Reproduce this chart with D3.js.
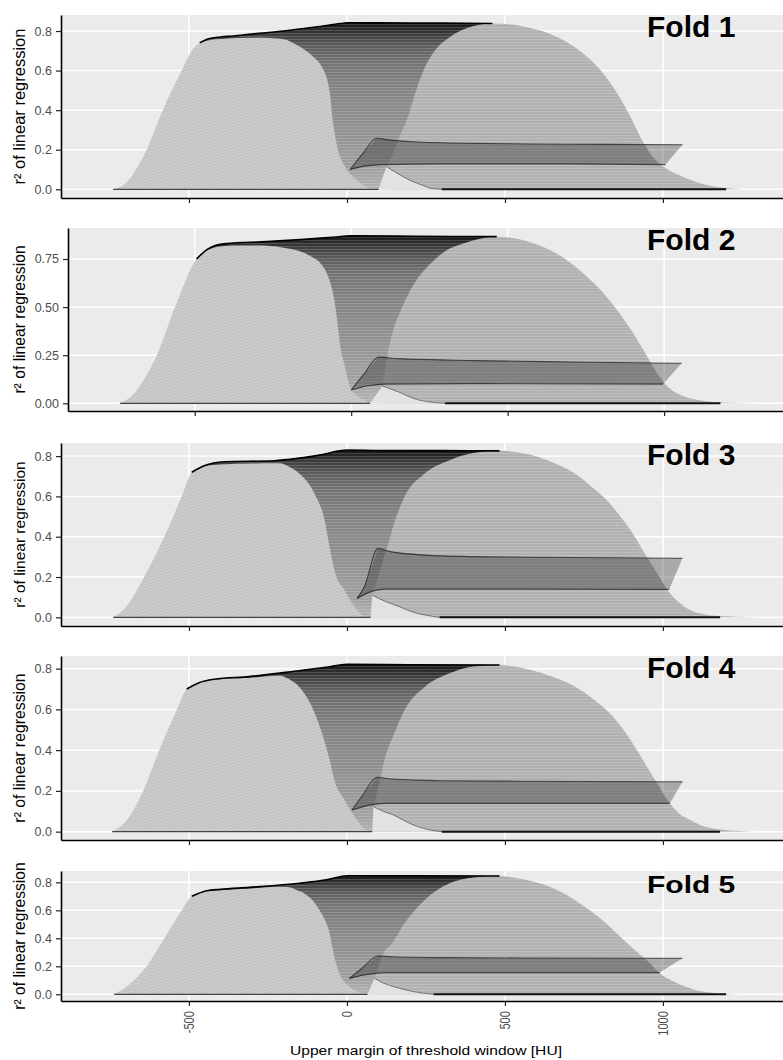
<!DOCTYPE html>
<html>
<head>
<meta charset="utf-8">
<script src="https://cdn.jsdelivr.net/npm/d3@7"></script>
<style>
  body { margin: 0; background: #fff; }
  svg { display: block; }
  text { font-family: "Liberation Sans", Arial, sans-serif; }
</style>
</head>
<body>
<svg id="chart" width="783" height="1060"></svg>
<script>
// ---------- data, one entry per fold ----------
const foldNames = ['Fold 1', 'Fold 2', 'Fold 3', 'Fold 4', 'Fold 5'];
const xTicks = [-500, 0, 500, 1000];
const xTickLabels = ['-500', '0', '500', '1000'];
const yTicks = [
    [0, 0.2, 0.4, 0.6, 0.8],
    [0, 0.25, 0.5, 0.75],
    [0, 0.2, 0.4, 0.6, 0.8],
    [0, 0.2, 0.4, 0.6, 0.8],
    [0, 0.2, 0.4, 0.6, 0.8]
];
const yTickLabels = [
    ['0.0', '0.2', '0.4', '0.6', '0.8'],
    ['0.00', '0.25', '0.50', '0.75'],
    ['0.0', '0.2', '0.4', '0.6', '0.8'],
    ['0.0', '0.2', '0.4', '0.6', '0.8'],
    ['0.0', '0.2', '0.4', '0.6', '0.8']
];

// outline of the left hump (rise, plateau, fall)  [HU, r2]
const leftHump = [
    [[-740,0],[-700,0.03],[-660,0.12],[-634,0.2],[-583,0.4],[-523,0.6],[-491,0.7],[-466,0.74],[-440,0.752],[-400,0.76],[-300,0.766],[-230,0.764],[-190,0.755],[-160,0.73],[-130,0.70],[-107,0.67],[-80,0.62],[-62,0.55],[-54,0.485],[-45,0.35],[-31,0.215],[-6,0.114],[25,0.056],[73,0.005],[100,0]],
    [[-739,0],[-700,0.04],[-660,0.13],[-621,0.25],[-563,0.5],[-494,0.75],[-460,0.795],[-430,0.812],[-377,0.82],[-300,0.82],[-220,0.81],[-164,0.79],[-125,0.76],[-100,0.73],[-74,0.66],[-58,0.57],[-46,0.45],[-36,0.31],[-20,0.19],[-4,0.086],[39,0.017],[60,0]],
    [[-740,0],[-700,0.05],[-642,0.2],[-578,0.4],[-523,0.6],[-491,0.72],[-452,0.75],[-400,0.758],[-300,0.763],[-214,0.764],[-180,0.745],[-151,0.714],[-103,0.615],[-71,0.483],[-55,0.35],[-40,0.235],[-8,0.135],[24,0.053],[55,0.005],[75,0]],
    [[-743,0],[-700,0.05],[-645,0.2],[-594,0.4],[-538,0.6],[-507,0.7],[-470,0.73],[-420,0.745],[-309,0.755],[-214,0.765],[-180,0.745],[-151,0.71],[-111,0.613],[-79,0.483],[-55,0.352],[-40,0.254],[-8,0.156],[24,0.074],[63,0.005],[80,0]],
    [[-737,0],[-700,0.05],[-634,0.2],[-578,0.4],[-523,0.6],[-491,0.7],[-444,0.735],[-400,0.745],[-309,0.755],[-220,0.768],[-183,0.765],[-160,0.745],[-135,0.721],[-87,0.602],[-55,0.436],[-40,0.269],[-24,0.15],[8,0.055],[48,0.005],[65,0]]
];

// upper envelope of all curves
const topEnv = [
    [[-466,0.74],[-440,0.76],[-400,0.77],[-360,0.775],[-300,0.785],[-200,0.80],[-100,0.82],[-20,0.838],[0,0.842],[100,0.841],[300,0.84],[460,0.838]],
    [[-494,0.75],[-460,0.80],[-430,0.822],[-400,0.83],[-270,0.84],[-150,0.852],[-58,0.863],[0,0.87],[200,0.868],[465,0.866]],
    [[-491,0.72],[-452,0.752],[-388,0.772],[-230,0.777],[-150,0.79],[-87,0.805],[0,0.83],[100,0.828],[300,0.827],[483,0.826]],
    [[-507,0.7],[-470,0.73],[-420,0.748],[-309,0.761],[-151,0.79],[-60,0.808],[0,0.821],[200,0.819],[483,0.818]],
    [[-491,0.7],[-444,0.74],[-400,0.75],[-309,0.764],[-151,0.793],[-60,0.82],[0,0.847],[200,0.846],[483,0.845]]
];

// rising (left) edge of the right hump
const rightRise = [
    [[125,0.115],[140,0.16],[155,0.22],[170,0.28],[189,0.35],[216,0.486],[242,0.6],[273,0.69],[326,0.77],[380,0.815],[420,0.832],[460,0.838]],
    [[100,0.09],[108,0.17],[116,0.25],[126,0.33],[140,0.41],[159,0.485],[202,0.624],[255,0.728],[300,0.79],[358,0.83],[420,0.858],[465,0.866]],
    [[80,0.11],[95,0.18],[110,0.26],[128,0.35],[150,0.47],[182,0.598],[246,0.714],[325,0.78],[400,0.815],[483,0.826]],
    [[84,0.123],[95,0.19],[105,0.26],[119,0.352],[150,0.483],[182,0.596],[246,0.71],[325,0.777],[400,0.81],[483,0.818]],
    [[87,0.114],[100,0.2],[115,0.29],[143,0.364],[182,0.507],[246,0.674],[325,0.793],[400,0.835],[483,0.845]]
];

// falling (right) edge of the right hump
const rightFall = [
    [[460,0.838],[520,0.833],[580,0.815],[643,0.785],[700,0.74],[748,0.687],[802,0.603],[855,0.485],[897,0.367],[939,0.234],[975,0.15],[1005,0.11],[1050,0.072],[1100,0.04],[1150,0.018],[1200,0.006],[1256,0]],
    [[465,0.866],[520,0.858],[603,0.82],[670,0.765],[731,0.69],[790,0.6],[838,0.51],[891,0.39],[934,0.277],[976,0.16],[1019,0.075],[1060,0.038],[1104,0.018],[1180,0.005],[1296,0]],
    [[483,0.826],[563,0.813],[650,0.77],[721,0.714],[780,0.64],[832,0.565],[875,0.48],[911,0.40],[945,0.31],[975,0.235],[1000,0.17],[1022,0.119],[1050,0.075],[1086,0.036],[1130,0.015],[1181,0.006],[1300,0]],
    [[483,0.818],[578,0.794],[650,0.76],[721,0.712],[780,0.65],[832,0.581],[875,0.50],[911,0.417],[945,0.33],[975,0.254],[1000,0.19],[1022,0.139],[1050,0.09],[1086,0.057],[1130,0.025],[1181,0.011],[1300,0]],
    [[483,0.845],[540,0.83],[610,0.793],[670,0.74],[721,0.674],[780,0.58],[832,0.483],[875,0.39],[911,0.317],[959,0.221],[985,0.16],[1006,0.126],[1040,0.085],[1070,0.055],[1110,0.025],[1149,0.012],[1200,0.004],[1275,0]]
];

// lowest curves falling to zero after the small peak
const lowFall = [
    [[125,0.115],[160,0.08],[200,0.045],[240,0.02],[263,0.006],[300,0]],
    [[100,0.09],[150,0.06],[200,0.025],[260,0.005],[300,0]],
    [[80,0.11],[120,0.08],[166,0.053],[210,0.025],[246,0.012],[293,0]],
    [[84,0.123],[115,0.1],[147,0.082],[180,0.055],[210,0.033],[274,0.005],[300,0]],
    [[87,0.114],[115,0.08],[147,0.055],[180,0.035],[210,0.019],[274,0]]
];

// bundle of flat low curves (upper and lower edge)
const bandTop = [
    [[10,0.1],[50,0.18],[94,0.258],[130,0.25],[210,0.24],[400,0.232],[700,0.228],[1062,0.225]],
    [[0,0.069],[40,0.15],[88,0.24],[150,0.232],[400,0.222],[700,0.215],[1056,0.208]],
    [[32,0.094],[55,0.152],[98,0.342],[140,0.325],[300,0.305],[600,0.298],[1062,0.293]],
    [[16,0.106],[50,0.18],[95,0.267],[140,0.258],[300,0.25],[600,0.247],[1062,0.245]],
    [[8,0.114],[50,0.19],[98,0.274],[140,0.268],[300,0.262],[600,0.259],[1062,0.257]]
];
const bandBottom = [
    [[10,0.1],[60,0.118],[110,0.125],[300,0.128],[700,0.128],[1008,0.125]],
    [[0,0.069],[50,0.09],[110,0.1],[400,0.102],[997,0.1]],
    [[32,0.094],[80,0.13],[120,0.14],[500,0.14],[1020,0.139]],
    [[16,0.106],[70,0.13],[120,0.139],[500,0.139],[1022,0.139]],
    [[8,0.114],[60,0.14],[120,0.155],[500,0.155],[990,0.155]]
];

// ---------- layout ----------
const W = 783;
const layout = [
    {top: 15,  bottom: 198,  left: 61, yMin: -0.044, yMax: 0.881, titleSize: 16.5, squash: 1},
    {top: 228, bottom: 411,  left: 68, yMin: -0.040, yMax: 0.911, titleSize: 15.7, squash: 1},
    {top: 443, bottom: 626,  left: 61, yMin: -0.043, yMax: 0.865, titleSize: 15.5, squash: 1},
    {top: 656, bottom: 840,  left: 61, yMin: -0.041, yMax: 0.862, titleSize: 15.8, squash: 1},
    {top: 871, bottom: 1001, left: 61, yMin: -0.048, yMax: 0.881, titleSize: 15.6, squash: 0.82}
];

const svg = d3.select('#chart');
const defs = svg.append('defs');

// fine stripes that mimic the many overplotted lines
var hs = defs.append('pattern').attr('id', 'hstripe')
    .attr('patternUnits', 'userSpaceOnUse').attr('width', 6).attr('height', 3);
hs.append('rect').attr('width', 6).attr('height', 1).attr('fill', '#fff').attr('fill-opacity', 0.16);

var ds = defs.append('pattern').attr('id', 'dstripe')
    .attr('patternUnits', 'userSpaceOnUse').attr('width', 6).attr('height', 3)
    .attr('patternTransform', 'rotate(-14)');
ds.append('rect').attr('width', 6).attr('height', 1).attr('fill', '#fff').attr('fill-opacity', 0.18);

foldNames.forEach(function(name, i) {
    const L = layout[i];

    var x = d3.scaleLinear().domain([-905, 1380]).range([L.left, W]);
    var y = d3.scaleLinear().domain([L.yMin, L.yMax]).range([L.bottom, L.top]);

    const g = svg.append('g');

    defs.append('clipPath').attr('id', 'clip' + i)
        .append('rect')
            .attr('x', L.left).attr('y', L.top)
            .attr('width', W - L.left).attr('height', L.bottom - L.top);

    // panel + grid
    g.append('rect')
        .attr('x', L.left).attr('y', L.top)
        .attr('width', W - L.left).attr('height', L.bottom - L.top)
        .attr('fill', '#ebebeb');

    g.append('g').selectAll('line').data(yTicks[i]).enter().append('line')
        .attr('x1', L.left).attr('x2', W)
        .attr('y1', function(d) { return y(d) }).attr('y2', function(d) { return y(d) })
        .attr('stroke', '#fff').attr('stroke-width', 1.5);

    g.append('g').selectAll('line').data(xTicks).enter().append('line')
        .attr('x1', function(d) { return x(d) }).attr('x2', function(d) { return x(d) })
        .attr('y1', L.top).attr('y2', L.bottom)
        .attr('stroke', '#fff').attr('stroke-width', 1.5);

    const plot = g.append('g').attr('clip-path', 'url(#clip' + i + ')');

    // vertical shading of the dense upper band
    const topMax = d3.max(topEnv[i], function(d) { return d[1] });
    const grad = defs.append('linearGradient').attr('id', 'grad' + i)
        .attr('gradientUnits', 'userSpaceOnUse')
        .attr('x1', 0).attr('x2', 0)
        .attr('y1', y(topMax)).attr('y2', y(0));
    [[0, '#111'], [0.03, '#2a2a2a'], [0.07, '#444'], [0.12, '#5e5e5e'], [0.2, '#747474'],
     [0.35, '#858585'], [0.55, '#929292'], [0.75, '#a2a2a2']].forEach(function(s) {
        grad.append('stop').attr('offset', s[0] / topMax).attr('stop-color', s[1]);
    });
    grad.append('stop').attr('offset', 1).attr('stop-color', '#b4b4b4');

    const area = d3.area()
        .x(function(d) { return x(d[0]) })
        .y0(y(0))
        .y1(function(d) { return y(d[1]) })
        .curve(d3.curveMonotoneX);

    const line = d3.line()
        .x(function(d) { return x(d[0]) })
        .y(function(d) { return y(d[1]) })
        .curve(d3.curveMonotoneX);

    const poly = d3.line()
        .x(function(d) { return x(d[0]) })
        .y(function(d) { return y(d[1]) })
        .curve(d3.curveLinearClosed);

    // dense middle region under the upper envelope
    plot.append('path').attr('d', area(topEnv[i])).attr('fill', 'url(#grad' + i + ')');
    plot.append('path').attr('d', area(topEnv[i])).attr('fill', 'url(#hstripe)');

    // left hump
    plot.append('path').attr('d', area(leftHump[i])).attr('fill', '#c4c4c4');
    plot.append('path').attr('d', area(leftHump[i])).attr('fill', 'url(#dstripe)');

    // right hump
    const rightHump = rightRise[i].concat(rightFall[i].slice(1));
    plot.append('path').attr('d', area(rightHump)).attr('fill', '#b1b1b1');
    plot.append('path').attr('d', area(rightHump)).attr('fill', 'url(#hstripe)');

    // empty pocket below the lowest curves
    const lh = leftHump[i];
    const pocket = [[lh[lh.length - 1][0], 0]].concat(lowFall[i]);
    plot.append('path').attr('d', poly(pocket)).attr('fill', '#e2e2e2');

    // bundle of low flat curves
    plot.append('path')
        .attr('d', poly(bandTop[i].concat(bandBottom[i].slice(1).reverse())))
        .attr('fill', '#000').attr('fill-opacity', 0.28);
    plot.append('path').attr('d', line(bandTop[i]))
        .attr('fill', 'none').attr('stroke', '#222').attr('stroke-width', 1.1).attr('stroke-opacity', 0.75);
    plot.append('path').attr('d', line(bandBottom[i]))
        .attr('fill', 'none').attr('stroke', '#222').attr('stroke-width', 1.2).attr('stroke-opacity', 0.75);
    plot.append('path').attr('d', line(lowFall[i]))
        .attr('fill', 'none').attr('stroke', '#333').attr('stroke-width', 1).attr('stroke-opacity', 0.6);

    // envelope and zero lines
    plot.append('path').attr('d', line(topEnv[i]))
        .attr('fill', 'none').attr('stroke', '#000').attr('stroke-width', 1.6);

    plot.append('line')
        .attr('x1', x(lh[0][0])).attr('x2', x(lh[lh.length - 1][0]))
        .attr('y1', y(0)).attr('y2', y(0))
        .attr('stroke', '#444').attr('stroke-width', 1.2);
    const lf = lowFall[i], rf = rightFall[i];
    plot.append('line')
        .attr('x1', x(lf[lf.length - 1][0])).attr('x2', x(rf[rf.length - 2][0]))
        .attr('y1', y(0)).attr('y2', y(0))
        .attr('stroke', '#111').attr('stroke-width', 2);

    // axes
    var yAxis = g.append('g')
        .attr('transform', 'translate(' + L.left + ',0)')
        .call(d3.axisLeft(y).tickValues(yTicks[i])
            .tickFormat(function(d, j) { return yTickLabels[i][j] })
            .tickSize(5).tickSizeOuter(0).tickPadding(4));
    yAxis.select('.domain').attr('stroke', '#000').attr('stroke-width', 1.6);
    yAxis.selectAll('.tick line').attr('stroke', '#222').attr('stroke-width', 1.2);
    yAxis.selectAll('.tick text')
        .attr('font-size', 12.5).attr('fill', '#4d4d4d')
        .style('font-family', '"Liberation Sans", Arial, sans-serif');

    var xAxis = g.append('g')
        .attr('transform', 'translate(0,' + L.bottom + ')')
        .call(d3.axisBottom(x).tickValues(xTicks).tickFormat('')
            .tickSize(5).tickSizeOuter(0));
    xAxis.select('.domain').attr('stroke', '#000').attr('stroke-width', 1.6);
    xAxis.selectAll('.tick line').attr('stroke', '#222').attr('stroke-width', 1.2);

    if (i == foldNames.length - 1) {
        g.append('g').selectAll('text').data(xTicks).enter().append('text')
            .attr('transform', function(d) {
                return 'translate(' + (x(d) + 5) + ',' + (L.bottom + 10) + ') scale(1,0.72) rotate(-90)';
            })
            .attr('text-anchor', 'end')
            .attr('font-size', 15.5)
            .attr('fill', '#4d4d4d')
            .text(function(d, j) { return xTickLabels[j] });

        g.append('text')
            .attr('transform', 'translate(' + 426 + ',' + 1055 + ') scale(1,0.8)')
            .attr('text-anchor', 'middle')
            .attr('font-size', 15.6)
            .attr('fill', '#000')
            .text('Upper margin of threshold window [HU]');
    }

    // y title
    g.append('text')
        .attr('transform', 'translate(25,' + ((L.top + L.bottom) / 2) + ') rotate(-90)')
        .attr('text-anchor', 'middle')
        .attr('font-size', L.titleSize)
        .attr('fill', '#000')
        .text('r\u00b2 of linear regression');

    // fold label
    g.append('text')
        .attr('transform', 'translate(647,' + (L.top + 22) + ') scale(1,' + L.squash + ')')
        .attr('font-size', 30)
        .attr('font-weight', 'bold')
        .attr('fill', '#000')
        .text(name);
});
</script>
</body>
</html>
